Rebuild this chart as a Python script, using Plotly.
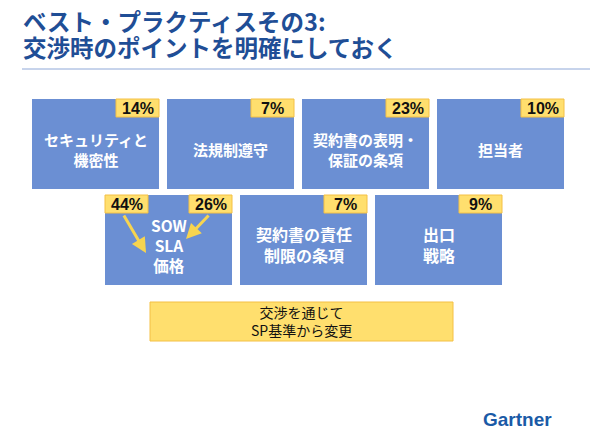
import plotly.graph_objects as go

# ---- data ----
top_labels = [["セキュリティと", "機密性"], ["法規制遵守"], ["契約書の表明・", "保証の条項"], ["担当者"]]
top_pcts = ["14%", "7%", "23%", "10%"]
bottom_labels = [["SOW", "SLA", "価格"], ["契約書の責任", "制限の条項"], ["出口", "戦略"]]
bottom_pcts = ["26%", "7%", "9%"]
extra_pct = "44%"
title_lines = ["ベスト・プラクティスその3:", "交渉時のポイントを明確にしておく"]
note_lines = ["交渉を通じて", "SP基準から変更"]
logo_text = "Gartner"

# ---- style ----
W, H = 590, 443
BLUE = "#6B8FD3"
YEL = "#FFDF6E"
YEL_BORDER = "#F4C045"
TITLE_C = "#1F4E96"
FONT = "Noto Sans CJK JP"

fig = go.Figure()
shapes = []
anns = []

def box(x0, y0, x1, y1, fill, line=None, lw=0):
    shapes.append(dict(type="rect", xref="x", yref="y", x0=x0, x1=x1, y0=y0, y1=y1,
                       fillcolor=fill, line=dict(color=line or fill, width=lw), layer="above"))

def text(x, y, t, size, color, bold=True, xanchor="center", family=FONT):
    anns.append(dict(x=x, y=y, xref="x", yref="y", text=(f"<b>{t}</b>" if bold else t),
                     showarrow=False, xanchor=xanchor, yanchor="middle", borderpad=0,
                     font=dict(family=family, size=size, color=color)))

def block(cx, cy, ls, size, color, bold=True):
    text(cx, cy, "<br>".join(ls), size, color, bold=bold)

BW, BH = 127, 90
BADGE_W, BADGE_H = 43, 18

# top row
top_x = [32, 167, 302, 437]
top_y0 = 99
for x0, lab, pct in zip(top_x, top_labels, top_pcts):
    box(x0, top_y0, x0 + BW, top_y0 + BH, BLUE)
    box(x0 + BW - BADGE_W, top_y0, x0 + BW, top_y0 + BADGE_H, YEL, YEL_BORDER, 1)
    text(x0 + BW - BADGE_W / 2, top_y0 + BADGE_H / 2 + 0.5, pct, 16, "#111111", family="Liberation Sans")
    block(x0 + BW / 2, top_y0 + 50, lab, 15, "white")

# bottom row
bot_x = [105, 240, 375]
bot_y0 = 195
for i, (x0, lab, pct) in enumerate(zip(bot_x, bottom_labels, bottom_pcts)):
    box(x0, bot_y0, x0 + BW, bot_y0 + BH, BLUE)
    box(x0 + BW - BADGE_W, bot_y0, x0 + BW, bot_y0 + BADGE_H, YEL, YEL_BORDER, 1)
    text(x0 + BW - BADGE_W / 2, bot_y0 + BADGE_H / 2 + 0.5, pct, 16, "#111111", family="Liberation Sans")
    block(x0 + BW / 2, bot_y0 + (50 if i == 0 else 49.5), lab, 16 if i else 15.5, "white")

# extra badge on first bottom box
x0 = bot_x[0]
box(x0, bot_y0, x0 + BADGE_W, bot_y0 + BADGE_H, YEL, YEL_BORDER, 1)
text(x0 + BADGE_W / 2, bot_y0 + BADGE_H / 2 + 0.5, extra_pct, 16, "#111111", family="Liberation Sans")

# arrows
for (tx, ty, sx, sy) in [(146, 253, 123, 214), (186, 239, 210, 214)]:
    anns.append(dict(x=tx, y=ty, ax=sx, ay=sy, xref="x", yref="y", axref="x", ayref="y",
                     showarrow=True, arrowhead=2, arrowsize=1.0, arrowwidth=3,
                     arrowcolor="#F7D44F", text=""))

# note box
box(150, 302, 453, 341, YEL, YEL_BORDER, 1)
block(301.5, 321, note_lines, 14, "#111111", bold=False)

# title
text(22, 21, title_lines[0], 23.5, TITLE_C, xanchor="left")
text(22, 47, title_lines[1], 23.5, TITLE_C, xanchor="left")
shapes.append(dict(type="line", xref="x", yref="y", x0=22, x1=W, y0=69, y1=69,
                   line=dict(color="#8FA8D8", width=1)))

# logo
text(517, 419, logo_text, 19, "#1A5AA6", xanchor="center", family="Liberation Sans")

fig.update_layout(
    width=W, height=H, margin=dict(l=0, r=0, t=0, b=0),
    paper_bgcolor="white", plot_bgcolor="white",
    xaxis=dict(range=[0, W], visible=False, fixedrange=True),
    yaxis=dict(range=[H, 0], visible=False, fixedrange=True),
    shapes=shapes, annotations=anns, showlegend=False, hovermode=False,
)
fig.write_html("out.html", config={"displayModeBar": False},
               post_script="document.body.style.margin='0';document.body.style.overflow='hidden';")
